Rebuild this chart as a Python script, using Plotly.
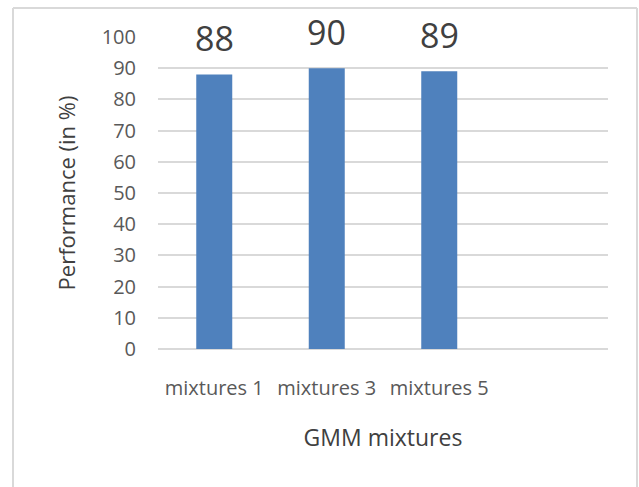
import plotly.graph_objects as go

# Recognition performance for each GMM mixture count
categories = ["mixtures 1", "mixtures 3", "mixtures 5"]
performance = [88, 90, 89]
y_ticks = [0, 10, 20, 30, 40, 50, 60, 70, 80, 90, 100]

FONT = "Open Sans"
BAR_COLOR = "#4F81BD"
GRID_COLOR = "#D9D9D9"
TICK_COLOR = "#595959"
LABEL_COLOR = "#404040"

fig = go.Figure()
fig.add_trace(go.Bar(
    x=categories,
    y=performance,
    marker=dict(color=BAR_COLOR, line=dict(width=0)),
    hoverinfo="x+y",
))

# Value labels above each bar
for cat, val in zip(categories, performance):
    fig.add_annotation(
        x=cat, y=val, text=str(val), showarrow=False,
        yanchor="bottom", yshift=11,
        font=dict(family=FONT, size=34, color=LABEL_COLOR),
    )

# Light chart-area frame
L, R, T, B = 158, 608, 37, 349
W, H = 639, 487
px = lambda v: (v - L) / (R - L)
py = lambda v: (B - v) / (B - T)
frame = dict(color=GRID_COLOR, width=2)
fig.add_shape(type="line", xref="paper", yref="paper",
              x0=px(13), x1=px(13), y0=py(8), y1=py(500), line=frame)
fig.add_shape(type="line", xref="paper", yref="paper",
              x0=px(13), x1=px(637), y0=py(8), y1=py(8), line=frame)
fig.add_shape(type="line", xref="paper", yref="paper",
              x0=px(637), x1=px(637), y0=py(8), y1=py(500), line=frame)

fig.update_layout(
    width=W, height=H,
    margin=dict(l=L, r=W - R, t=T, b=H - B, autoexpand=False),
    paper_bgcolor="white", plot_bgcolor="white",
    bargap=0.68,
    showlegend=False,
    font=dict(family=FONT, color=TICK_COLOR),
    xaxis=dict(
        type="category",
        range=[-0.5, 3.5],
        showgrid=False, zeroline=False, showline=False,
        ticks="",
        tickfont=dict(family=FONT, size=20, color=TICK_COLOR),
        ticklabelstandoff=25,
        title=dict(text="GMM mixtures", standoff=29,
                   font=dict(family=FONT, size=23, color=LABEL_COLOR)),
        automargin=False,
    ),
    yaxis=dict(
        range=[0, 100],
        tickvals=y_ticks,
        showgrid=True, gridcolor=GRID_COLOR, gridwidth=1.5,
        zeroline=True, zerolinecolor=GRID_COLOR, zerolinewidth=1.5,
        showline=False, ticks="",
        tickfont=dict(family=FONT, size=20, color=TICK_COLOR),
        ticklabelstandoff=21,
        title=dict(text="Performance (in %)", standoff=19,
                   font=dict(family=FONT, size=22, color=LABEL_COLOR)),
        automargin=False,
    ),
)

fig.write_html("out.html")
